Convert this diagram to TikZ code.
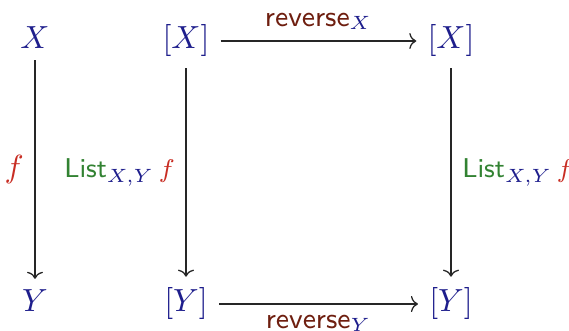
\documentclass[tikz,border=0pt]{standalone}
\usetikzlibrary{arrows.meta}
\definecolor{objblue}{RGB}{30,30,140}
\definecolor{fungreen}{RGB}{50,130,50}
\definecolor{revbrown}{RGB}{110,30,15}
\definecolor{fred}{RGB}{200,45,35}
\tikzset{
  obj/.style={anchor=base, text=objblue},
  mor/.style={draw=black!85, line width=0.4pt, -{To[length=2.2pt,width=5pt]}},
  lbl/.style={font=\small},
  listfont/.style={font=\fontsize{8.5}{10}\selectfont},
}
\newcommand{\listlbl}{\textcolor{fungreen}{\textsf{List}}$_{\color{objblue}X,Y}$\,\textcolor{fred}{$f$}}
\begin{document}
\begin{tikzpicture}[x=0.3125pt, y=-0.3125pt]
\useasboundingbox (0,0) rectangle (569,331);
\node[obj] (X)  at (35,49)  {$X$};
\node[obj] (Y)  at (35,312) {$Y$};
\node[obj] (LX) at (186,49) {$[X]$};
\node[obj] (RX) at (451,49) {$[X]$};
\node[obj] (LY) at (186,312) {$[Y]$};
\node[obj] (RY) at (451,312) {$[Y]$};
\draw[mor] (X) -- node[left] {$\color{fred}f$} (Y);
\draw[mor] (LX) -- node[left, listfont] {\listlbl} (LY);
\draw[mor] (RX) -- node[right, listfont] {\listlbl} (RY);
\draw[mor] (LX) -- node[above, lbl] {\textcolor{revbrown}{\textsf{reverse}}$_{\color{objblue}X}$} (RX);
\draw[mor] (LY) -- node[below, lbl] {\textcolor{revbrown}{\textsf{reverse}}$_{\color{objblue}Y}$} (RY);
\end{tikzpicture}
\end{document}
